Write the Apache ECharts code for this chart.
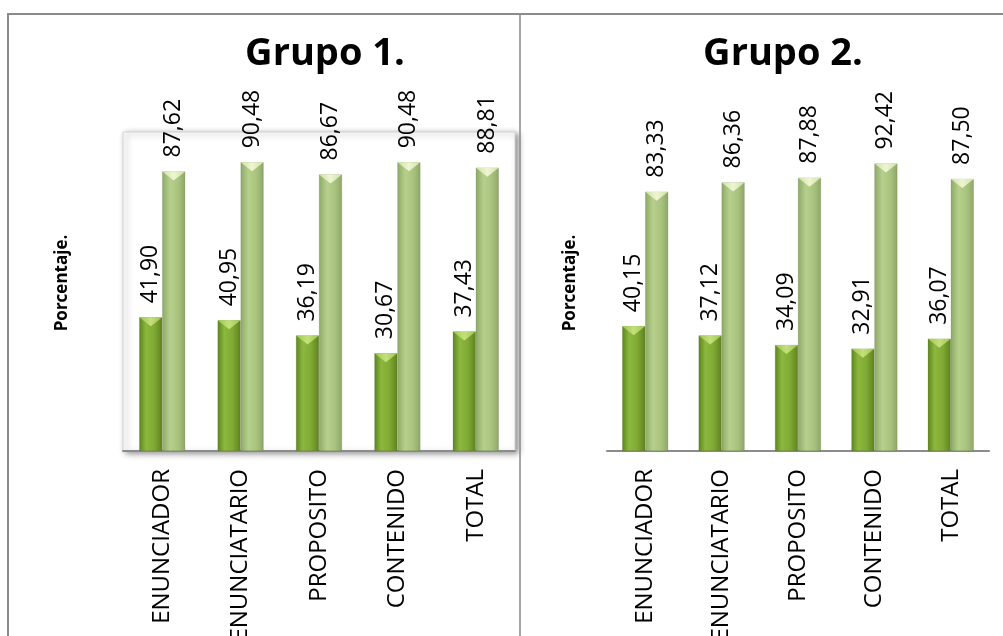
<!DOCTYPE html>
<html>
<head>
<meta charset="utf-8">
<script src="https://cdn.jsdelivr.net/npm/echarts@6/dist/echarts.min.js"></script>
<style>
  html, body { margin: 0; padding: 0; background: #fff; }
  #chart { width: 1003px; height: 636px; }
</style>
</head>
<body>
<div id="chart"></div>
<script>
// Categories shared by both panels
const categories = ['ENUNCIADOR', 'ENUNCIATARIO', 'PROPOSITO', 'CONTENIDO', 'TOTAL'];

// Grupo 1 percentages
const grupo1Bajo = [41.90, 40.95, 36.19, 30.67, 37.43];
const grupo1Alto = [87.62, 90.48, 86.67, 90.48, 88.81];

// Grupo 2 percentages
const grupo2Bajo = [40.15, 37.12, 34.09, 32.91, 36.07];
const grupo2Alto = [83.33, 86.36, 87.88, 92.42, 87.50];

const titles = ['Grupo 1.', 'Grupo 2.'];
const yName = 'Porcentaje.';

const FONT = "'Open Sans', 'Noto Sans', sans-serif";

function hGrad(stops) {
  return new echarts.graphic.LinearGradient(0, 0, 1, 0,
    stops.map(s => ({ offset: s[0], color: s[1] })));
}

const darkFill = hGrad([[0, '#5c841e'], [0.3, '#8cb83e'], [0.65, '#80aa34'], [1, '#5e821f']]);
const lightFill = hGrad([[0, '#8ea868'], [0.35, '#b6d08c'], [0.7, '#a8c37d'], [1, '#8ea66a']]);
const darkCap = hGrad([[0, '#9cc550'], [0.5, '#c4e07a'], [1, '#9cc550']]);
const lightCap = hGrad([[0, '#cfe0a6'], [0.5, '#eef5d2'], [1, '#cfe0a6']]);

const valueLabel = {
  show: true,
  position: 'top',
  rotate: 90,
  align: 'left',
  verticalAlign: 'middle',
  distance: 14,
  fontFamily: FONT,
  fontSize: 23,
  color: '#000',
  formatter: p => p.value.toFixed(2).replace('.', ',')
};

function barSeries(data, idx, fill) {
  return {
    type: 'bar',
    xAxisIndex: idx,
    yAxisIndex: idx,
    data: data,
    barWidth: 23,
    barGap: '0%',
    itemStyle: { color: fill, borderColor: 'rgba(60,80,20,0.35)', borderWidth: 0.5 },
    label: valueLabel,
    z: 2
  };
}

function capSeries(data, idx, fill) {
  return {
    type: 'pictorialBar',
    xAxisIndex: idx,
    yAxisIndex: idx,
    data: data,
    barWidth: 23,
    barGap: '0%',
    symbol: 'path://M0,0 L10,0 L5,3.6 Z',
    symbolSize: [23, 9],
    symbolPosition: 'end',
    symbolClip: false,
    itemStyle: { color: fill },
    silent: true,
    z: 3
  };
}

const grids = [
  { left: 123, right: 488, top: 132, bottom: 185, outerBoundsMode: 'none', containLabel: false },
  { left: 607, right: 14, top: 140, bottom: 185, outerBoundsMode: 'none', containLabel: false }
];

function axisTitle(x, y) {
  return {
    type: 'text', x: x, y: y, rotation: Math.PI / 2, silent: true,
    style: {
      text: yName, fontFamily: FONT, fontSize: 17, fontWeight: 'bold',
      fill: '#000', align: 'center', verticalAlign: 'middle'
    }
  };
}

const titleStyle = { fontFamily: FONT, fontSize: 38, fontWeight: 'bold', color: '#000' };

const option = {
  animation: false,
  backgroundColor: '#fff',
  title: [
    { text: titles[0], left: 320, top: 30, textAlign: 'center', textStyle: titleStyle },
    { text: titles[1], left: 778, top: 30, textAlign: 'center', textStyle: titleStyle }
  ],
  graphic: [
    { type: 'rect', shape: { x: 8, y: 14, width: 1010, height: 640 },
      style: { fill: 'none', stroke: '#8a8a8a', lineWidth: 2 }, z: 0, silent: true },
    { type: 'line', shape: { x1: 520, y1: 14, x2: 520, y2: 636 },
      style: { stroke: '#8a8a8a', lineWidth: 1.5 }, z: 0, silent: true },
    axisTitle(62, 283),
    axisTitle(570, 283)
  ],
  grid: [
    Object.assign({}, grids[0], {
      show: true, backgroundColor: '#fff',
      borderColor: '#d4d4d4', borderWidth: 1,
      shadowColor: 'rgba(0,0,0,0.45)', shadowBlur: 6, shadowOffsetX: 3, shadowOffsetY: 2
    }),
    grids[1]
  ],
  xAxis: [0, 1].map(i => ({
    type: 'category',
    gridIndex: i,
    data: categories,
    axisTick: { show: false },
    axisLine: { show: true, lineStyle: { color: '#8c8c8c', width: 2 } },
    axisLabel: {
      rotate: 90, margin: 18, interval: 0,
      fontFamily: FONT, fontSize: 24, color: '#000'
    }
  })),
  yAxis: [0, 1].map(i => ({
    type: 'value',
    gridIndex: i,
    min: 0, max: 100,
    axisLine: { show: false },
    axisTick: { show: false },
    axisLabel: { show: false },
    splitLine: { show: false }
  })),
  series: [
    barSeries(grupo1Bajo, 0, darkFill),
    barSeries(grupo1Alto, 0, lightFill),
    capSeries(grupo1Bajo, 0, darkCap),
    capSeries(grupo1Alto, 0, lightCap),
    barSeries(grupo2Bajo, 1, darkFill),
    barSeries(grupo2Alto, 1, lightFill),
    capSeries(grupo2Bajo, 1, darkCap),
    capSeries(grupo2Alto, 1, lightCap)
  ]
};

const chart = echarts.init(document.getElementById('chart'), null, { renderer: 'canvas' });
chart.setOption(option);
</script>
</body>
</html>
